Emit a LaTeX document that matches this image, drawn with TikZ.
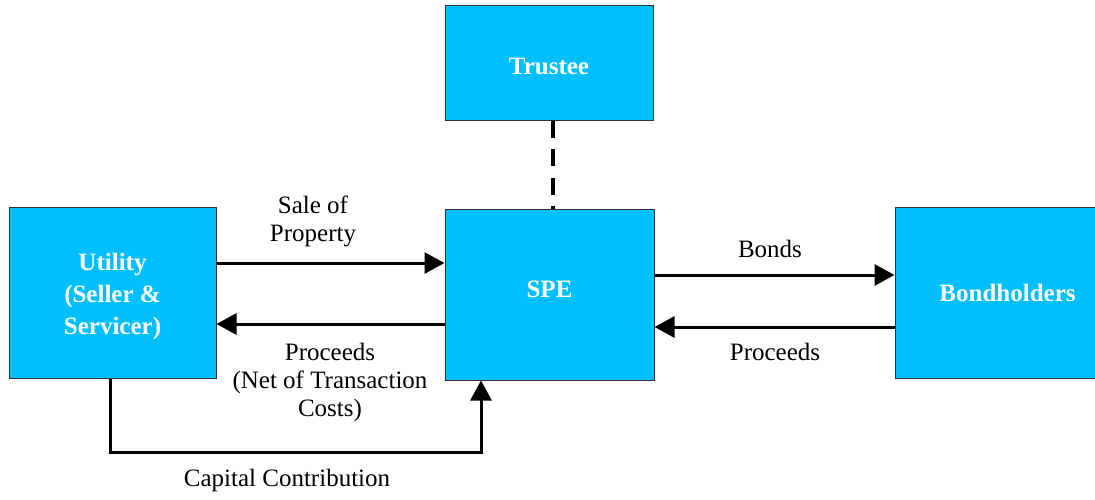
\documentclass[tikz,border=0pt]{standalone}
\usepackage{fontspec}
\setmainfont{Liberation Serif}
\usetikzlibrary{arrows.meta}
\definecolor{boxblue}{HTML}{00BFFF}
\definecolor{boxline}{HTML}{303030}
\begin{document}
\begin{tikzpicture}[x=1pt,y=-1pt,
  entity/.style={draw=boxline,line width=1pt,fill=boxblue,inner sep=0pt},
  enttext/.style={text=white,font=\fontsize{25}{32}\selectfont\bfseries,align=center,inner sep=0pt},
  arr/.style={line width=3pt,-{Triangle[length=20pt,width=21pt]}},
  lbl/.style={font=\fontsize{25}{28}\selectfont,align=center,inner sep=0pt}]
\useasboundingbox (0,0) rectangle (1095,500);
\clip (0,0) rectangle (1095,500);
\node[entity,minimum width=207pt,minimum height=171pt,
  label={[enttext,yshift=-4pt]center:Utility\\(Seller \&\\Servicer)}] (U) at (112.5,292.5) {};
\node[entity,minimum width=208pt,minimum height=115pt,
  label={[enttext,yshift=-3pt]center:Trustee}] (T) at (549,63.5) {};
\node[entity,minimum width=209pt,minimum height=171pt,
  label={[enttext,yshift=5pt]center:SPE}] (S) at (549.5,294.5) {};
\node[entity,minimum width=225pt,minimum height=171pt,
  label={[enttext]center:Bondholders}] (B) at (1007.5,292.5) {};
% dashed link
\draw[line width=3.2pt,dash pattern=on 17pt off 11pt] (T.south -| 553,0) -- (S.north -| 553,0);
% arrows
\draw[arr] ([yshift=29.5pt]U.east) -- ([yshift=29.5pt]U.east -| S.west);
\draw[arr] ([yshift=-29.5pt]S.west) -- ([yshift=-29.5pt]S.west -| U.east);
\draw[arr] ([yshift=19.5pt]S.east) -- ([yshift=19.5pt]S.east -| B.west);
\draw[arr] ([yshift=-34.5pt]B.west) -- ([yshift=-34.5pt]B.west -| S.east);
\coordinate (c1) at (110,452);
\coordinate (c2) at (481,452);
\draw[arr] (U.south -| c1) -- (c1) -- (c2) -- (S.south -| c2);
% labels
\node[lbl] (l1) at (313,221) {Sale of\\Property};
\node[lbl] (l2) at (330,382) {Proceeds\\(Net of Transaction\\Costs)};
\node[lbl] (l3) at (287,480) {Capital Contribution};
\node[lbl] (l4) at (770,249) {Bonds};
\node[lbl] (l5) at (775,352) {Proceeds};
\end{tikzpicture}
\end{document}
